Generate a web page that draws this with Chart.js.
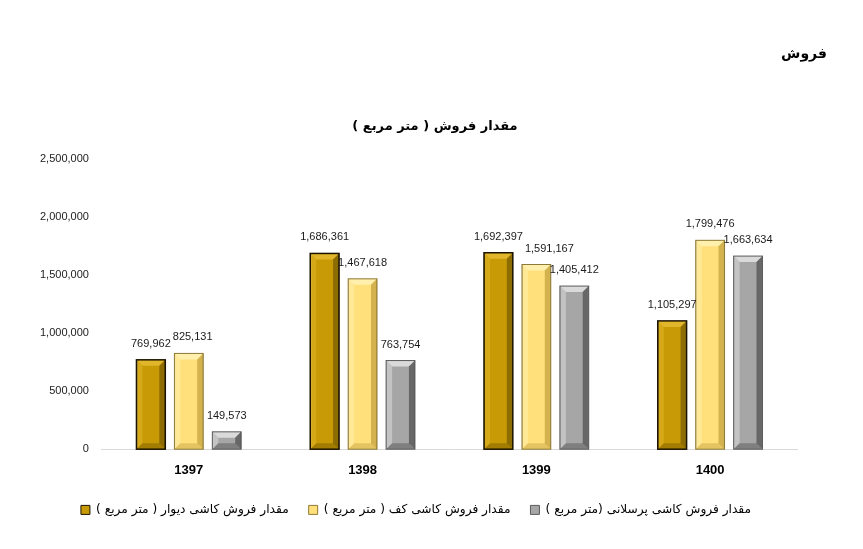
<!DOCTYPE html>
<html>
<head>
<meta charset="utf-8">
<script src="https://cdn.jsdelivr.net/npm/chart.js@4"></script>
<style>
  html, body { margin: 0; padding: 0; background: #fff; }
  #wrap { width: 863px; height: 549px; position: relative; }
</style>
</head>
<body>
<div id="wrap"><canvas id="chart"></canvas></div>
<script>
// 数据
const years = ['1397', '1398', '1399', '1400'];
const wallTiles = [769962, 1686361, 1692397, 1105297];
const floorTiles = [825131, 1467618, 1591167, 1799476];
const porcelainTiles = [149573, 763754, 1405412, 1663634];
const seriesNames = [
    'مقدار فروش کاشی دیوار ( متر مربع )',
    'مقدار فروش کاشی کف ( متر مربع )',
    'مقدار فروش کاشی پرسلانی (متر مربع )'
];
const yTicks = [0, 500000, 1000000, 1500000, 2000000, 2500000];
const pageTitle = 'فروش';
const chartTitle = 'مقدار فروش ( متر مربع )';

// 每个系列的颜色: 主色, 亮面, 暗面, 边框
const palette = [
    { base: '#C89A05', light: '#E2B62A', dark: '#7E6000', border: '#1c1400' },
    { base: '#FFE07A', light: '#FFF0AE', dark: '#C9A845', border: '#8f7a35' },
    { base: '#A6A6A6', light: '#DADADA', dark: '#585858', border: '#5c5c5c' }
];

const fmt = v => v.toLocaleString('en-US');
const labelFont = '11px "Liberation Sans", Arial, sans-serif';

/**
 * 斜面效果 + 数值标签
 */
const bevelPlugin = {
    id: 'bevel',
    afterDatasetsDraw(chart) {
        const ctx = chart.ctx;
        const labels = []; // 每个类别的标签
        chart.data.datasets.forEach((ds, di) => {
            const c = palette[di];
            chart.getDatasetMeta(di).data.forEach((bar, i) => {
                const { x, y, width, base } = bar.getProps(['x', 'y', 'width', 'base'], true);
                const l = x - width / 2, r = x + width / 2;
                const h = base - y;
                const b = Math.min(6, h / 2, width / 3);
                ctx.save();
                // 顶面
                ctx.fillStyle = c.light;
                ctx.beginPath();
                ctx.moveTo(l, y); ctx.lineTo(r, y); ctx.lineTo(r - b, y + b); ctx.lineTo(l + b, y + b);
                ctx.closePath(); ctx.fill();
                // 左侧
                ctx.globalAlpha = 0.55;
                ctx.beginPath();
                ctx.moveTo(l, y); ctx.lineTo(l + b, y + b); ctx.lineTo(l + b, base - b); ctx.lineTo(l, base);
                ctx.closePath(); ctx.fill();
                // 右侧
                ctx.globalAlpha = 0.8;
                ctx.fillStyle = c.dark;
                ctx.beginPath();
                ctx.moveTo(r, y); ctx.lineTo(r - b, y + b); ctx.lineTo(r - b, base - b); ctx.lineTo(r, base);
                ctx.closePath(); ctx.fill();
                // 底部
                ctx.globalAlpha = 0.5;
                ctx.beginPath();
                ctx.moveTo(l, base); ctx.lineTo(l + b, base - b); ctx.lineTo(r - b, base - b); ctx.lineTo(r, base);
                ctx.closePath(); ctx.fill();
                ctx.globalAlpha = 1;
                ctx.strokeStyle = c.border;
                ctx.lineWidth = di === 0 ? 1.5 : 1;
                ctx.strokeRect(l, y, width, h);
                ctx.restore();

                if (!labels[i]) labels[i] = [];
                labels[i].push({ text: fmt(ds.data[i]), x: x, y: y - 16 });
            });
        });

        // 避免标签重叠
        ctx.save();
        ctx.font = labelFont;
        ctx.fillStyle = '#1a1a1a';
        ctx.textAlign = 'center';
        ctx.textBaseline = 'middle';
        labels.forEach(group => {
            group.forEach((lb, j) => {
                lb.w = ctx.measureText(lb.text).width;
                if (j > 0) {
                    const prev = group[j - 1];
                    const overlap = (prev.x + prev.w / 2 + 2) - (lb.x - lb.w / 2);
                    if (overlap > 0 && Math.abs(prev.y - lb.y) < 13) lb.x += overlap;
                }
                ctx.fillText(lb.text, lb.x, lb.y);
            });
        });
        ctx.restore();
    }
};

/**
 * 标题
 */
const headingPlugin = {
    id: 'heading',
    afterDraw(chart) {
        const ctx = chart.ctx;
        ctx.save();
        ctx.direction = 'rtl';
        ctx.fillStyle = '#000';
        ctx.textBaseline = 'middle';
        ctx.font = 'bold 14px "DejaVu Sans", sans-serif';
        ctx.textAlign = 'right';
        ctx.fillText(pageTitle, chart.width - 36, 54);
        ctx.font = 'bold 13px "DejaVu Sans", sans-serif';
        ctx.textAlign = 'center';
        ctx.fillText(chartTitle, 435, 127);
        ctx.restore();
    }
};

const ctx = document.getElementById('chart').getContext('2d');
new Chart(ctx, {
    type: 'bar',
    data: {
        labels: years,
        datasets: [wallTiles, floorTiles, porcelainTiles].map((d, i) => ({
            label: seriesNames[i],
            data: d,
            backgroundColor: palette[i].base,
            borderColor: palette[i].border,
            borderWidth: 1,
            barPercentage: 0.76,
            categoryPercentage: 0.655
        }))
    },
    options: {
        responsive: true,
        maintainAspectRatio: false,
        animation: false,
        layout: { padding: { top: 159, right: 66, left: 35, bottom: 23 } },
        plugins: {
            title: { display: false },
            tooltip: { enabled: false },
            legend: {
                position: 'bottom',
                textDirection: 'rtl',
                labels: {
                    boxWidth: 9,
                    boxHeight: 9,
                    padding: 20,
                    color: '#000',
                    font: { family: '"DejaVu Sans", sans-serif', size: 12.2 }
                }
            }
        },
        scales: {
            x: {
                grid: { display: false },
                border: { color: '#d9d9d9' },
                afterFit: axis => { axis.height += 1; },
                ticks: {
                    color: '#000',
                    padding: 5,
                    font: { family: '"Liberation Sans", Arial, sans-serif', size: 13, weight: 'bold' }
                }
            },
            y: {
                min: 0,
                max: yTicks[yTicks.length - 1],
                grid: { display: false },
                border: { display: false },
                afterBuildTicks: axis => { axis.ticks = yTicks.map(v => ({ value: v })); },
                ticks: {
                    color: '#222',
                    padding: 5,
                    font: { family: '"Liberation Sans", Arial, sans-serif', size: 11 },
                    callback: v => fmt(v)
                }
            }
        }
    },
    plugins: [bevelPlugin, headingPlugin]
});
</script>
</body>
</html>
